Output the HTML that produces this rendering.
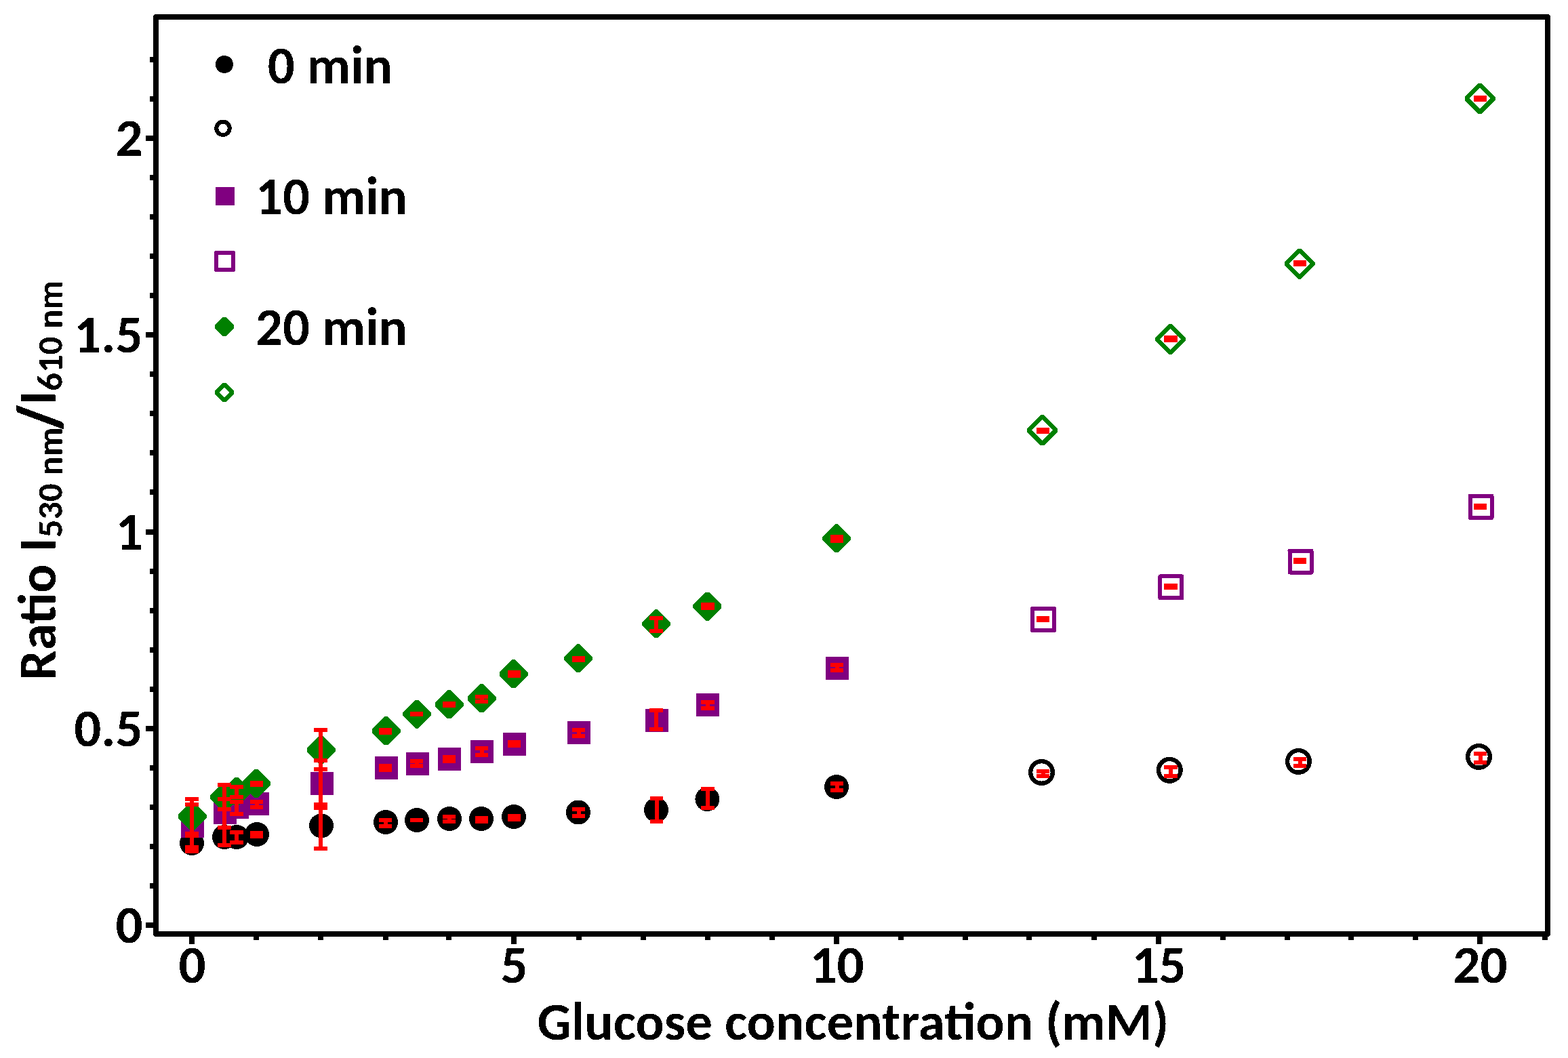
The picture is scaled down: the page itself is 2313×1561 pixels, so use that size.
<!DOCTYPE html><html><head><meta charset="utf-8"><title>Glucose ratio chart</title><style>html,body{margin:0;padding:0;background:#fff;overflow:hidden}svg{display:block}text{font-size-adjust:0.48486;font-family:Carlito, 'Liberation Sans', sans-serif;font-weight:bold;fill:#000}</style></head><body>
<svg width="2313" height="1561" viewBox="0 0 2313 1561" shape-rendering="crispEdges">
<rect x="0" y="0" width="2313" height="1561" fill="#fff"/>
<defs><filter id="bin" x="0" y="0" width="2313" height="1561" filterUnits="userSpaceOnUse" color-interpolation-filters="sRGB"><feComponentTransfer><feFuncA type="discrete" tableValues="0 1"/></feComponentTransfer></filter></defs>
<g filter="url(#bin)">
<rect x="230" y="25" width="2053" height="1353" fill="none" stroke="#000" stroke-width="8" stroke-linejoin="round"/>
<g fill="#000"><rect x="215" y="1361" width="11" height="8"/><rect x="221" y="1302.95" width="5" height="8"/><rect x="221" y="1244.9" width="5" height="8"/><rect x="221" y="1186.85" width="5" height="8"/><rect x="221" y="1128.8" width="5" height="8"/><rect x="215" y="1070.75" width="11" height="8"/><rect x="221" y="1012.7" width="5" height="8"/><rect x="221" y="954.65" width="5" height="8"/><rect x="221" y="896.6" width="5" height="8"/><rect x="221" y="838.55" width="5" height="8"/><rect x="215" y="780.5" width="11" height="8"/><rect x="221" y="722.45" width="5" height="8"/><rect x="221" y="664.4" width="5" height="8"/><rect x="221" y="606.35" width="5" height="8"/><rect x="221" y="548.3" width="5" height="8"/><rect x="215" y="490.25" width="11" height="8"/><rect x="221" y="432.2" width="5" height="8"/><rect x="221" y="374.15" width="5" height="8"/><rect x="221" y="316.1" width="5" height="8"/><rect x="221" y="258.05" width="5" height="8"/><rect x="215" y="200" width="11" height="8"/><rect x="221" y="141.95" width="5" height="8"/><rect x="221" y="83.9" width="5" height="8"/><rect x="279" y="1382" width="8" height="11"/><rect x="374" y="1382" width="8" height="5"/><rect x="469" y="1382" width="8" height="5"/><rect x="565" y="1382" width="8" height="5"/><rect x="658" y="1382" width="8" height="5"/><rect x="754" y="1382" width="8" height="11"/><rect x="850" y="1382" width="8" height="5"/><rect x="945" y="1382" width="8" height="5"/><rect x="1040" y="1382" width="8" height="5"/><rect x="1135" y="1382" width="8" height="5"/><rect x="1230" y="1382" width="8" height="11"/><rect x="1324.5" y="1382" width="8" height="5"/><rect x="1419.5" y="1382" width="8" height="5"/><rect x="1514" y="1382" width="8" height="5"/><rect x="1610" y="1382" width="8" height="5"/><rect x="1705" y="1382" width="8" height="11"/><rect x="1800" y="1382" width="8" height="5"/><rect x="1895" y="1382" width="8" height="5"/><rect x="1989" y="1382" width="8" height="5"/><rect x="2084" y="1382" width="8" height="5"/><rect x="2179" y="1382" width="8" height="11"/><rect x="2275" y="1382" width="8" height="5"/></g>
<g font-size="79"><text x="210.5" y="1391" text-anchor="end" textLength="40.05" lengthAdjust="spacingAndGlyphs">0</text><text x="210.5" y="1100.75" text-anchor="end" textLength="101.19" lengthAdjust="spacingAndGlyphs">0.5</text><text x="210.5" y="810.5" text-anchor="end" textLength="40.05" lengthAdjust="spacingAndGlyphs">1</text><text x="210.5" y="520.25" text-anchor="end" textLength="101.19" lengthAdjust="spacingAndGlyphs">1.5</text><text x="210.5" y="230" text-anchor="end" textLength="40.05" lengthAdjust="spacingAndGlyphs">2</text><text x="283.5" y="1450" text-anchor="middle" textLength="40.05" lengthAdjust="spacingAndGlyphs">0</text><text x="758.5" y="1450" text-anchor="middle" textLength="40.05" lengthAdjust="spacingAndGlyphs">5</text><text x="1234.5" y="1450" text-anchor="middle" textLength="80.09" lengthAdjust="spacingAndGlyphs">10</text><text x="1709.5" y="1450" text-anchor="middle" textLength="80.09" lengthAdjust="spacingAndGlyphs">15</text><text x="2183.5" y="1450" text-anchor="middle" textLength="80.09" lengthAdjust="spacingAndGlyphs">20</text></g>
<text x="792.5" y="1534" font-size="79" textLength="931.95" lengthAdjust="spacingAndGlyphs">Glucose concentration (mM)</text>
<g transform="translate(81.6 1003.7) rotate(-90)"><text x="0" y="0" font-size="79" textLength="210.39" lengthAdjust="spacingAndGlyphs">Ratio I</text><text x="210.39" y="10.4" font-size="52.67" textLength="163.06" lengthAdjust="spacingAndGlyphs" xml:space="preserve">530 nm</text><text x="405.98" y="0" font-size="79" textLength="21.06" lengthAdjust="spacingAndGlyphs">I</text><text x="427.04" y="10.4" font-size="52.67" textLength="163.06" lengthAdjust="spacingAndGlyphs" xml:space="preserve">610 nm</text><text transform="translate(373.2 6.6) scale(0.88 1.13)" x="0" y="0" font-size="79" stroke="#000" stroke-width="3.5" textLength="33.95" lengthAdjust="spacingAndGlyphs">/</text></g>
<g>
<circle cx="331" cy="95" r="13" fill="#000000"/>
<circle cx="329" cy="189.3" r="9.7" fill="none" stroke="#000000" stroke-width="6"/>
<rect x="318" y="275.8" width="28" height="27" fill="#800080"/>
<rect x="319.1" y="372.9" width="25" height="25" fill="none" stroke="#800080" stroke-width="6" stroke-linejoin="round"/>
<path d="M328.7 467.8 L333.3 467.8 L345.1 479.6 L345.1 484.2 L333.3 496 L328.7 496 L316.9 484.2 L316.9 479.6 Z" fill="#008000"/>
<path d="M328.7 564.8 L333.3 564.8 L345.1 576.6 L345.1 581.2 L333.3 593 L328.7 593 L316.9 581.2 L316.9 576.6 Z M331 571.7 L338.2 578.9 L331 586.1 L323.8 578.9 Z" fill="#008000" fill-rule="evenodd"/>
</g>
<g font-size="79"><text x="377" y="123" xml:space="preserve" textLength="201.83" lengthAdjust="spacingAndGlyphs"> 0 min</text><text x="377" y="316.2" xml:space="preserve" textLength="224.02" lengthAdjust="spacingAndGlyphs">10 min</text><text x="377" y="509.4" xml:space="preserve" textLength="224.02" lengthAdjust="spacingAndGlyphs">20 min</text></g>
<g><circle cx="283" cy="1244" r="18" fill="#000000"/><circle cx="331" cy="1235" r="18" fill="#000000"/><circle cx="349" cy="1235" r="18" fill="#000000"/><circle cx="379" cy="1231" r="18" fill="#000000"/><circle cx="474" cy="1218.3" r="18" fill="#000000"/><circle cx="569" cy="1213" r="18" fill="#000000"/><circle cx="615" cy="1210" r="18" fill="#000000"/><circle cx="663" cy="1208" r="18" fill="#000000"/><circle cx="710" cy="1208" r="18" fill="#000000"/><circle cx="758" cy="1205" r="18" fill="#000000"/><circle cx="853" cy="1198.5" r="18" fill="#000000"/><circle cx="968" cy="1195" r="18" fill="#000000"/><circle cx="1043.4" cy="1179" r="18" fill="#000000"/><circle cx="1234" cy="1161" r="18" fill="#000000"/><circle cx="1536.5" cy="1139.5" r="16.3" fill="none" stroke="#000000" stroke-width="6.4"/><circle cx="1725.3" cy="1136.3" r="16.3" fill="none" stroke="#000000" stroke-width="6.4"/><circle cx="1915.4" cy="1123.4" r="16.3" fill="none" stroke="#000000" stroke-width="6.4"/><circle cx="2181.5" cy="1116.4" r="16.3" fill="none" stroke="#000000" stroke-width="6.4"/><rect x="267" y="1201.7" width="34" height="34" fill="#800080"/><rect x="315" y="1181.7" width="34" height="34" fill="#800080"/><rect x="332.9" y="1173.6" width="34" height="34" fill="#800080"/><rect x="363" y="1169" width="34" height="34" fill="#800080"/><rect x="458" y="1139.4" width="34" height="34" fill="#800080"/><rect x="553" y="1116.4" width="34" height="34" fill="#800080"/><rect x="599" y="1110" width="34" height="34" fill="#800080"/><rect x="646.4" y="1103" width="34" height="34" fill="#800080"/><rect x="694" y="1092" width="34" height="34" fill="#800080"/><rect x="742" y="1080.5" width="34" height="34" fill="#800080"/><rect x="837" y="1064" width="34" height="34" fill="#800080"/><rect x="952" y="1046" width="34" height="34" fill="#800080"/><rect x="1027" y="1023" width="34" height="34" fill="#800080"/><rect x="1218" y="969" width="34" height="34" fill="#800080"/><rect x="1523" y="898" width="32" height="32" fill="none" stroke="#800080" stroke-width="6" stroke-linejoin="round"/><rect x="1711.4" y="850.4" width="32" height="32" fill="none" stroke="#800080" stroke-width="6" stroke-linejoin="round"/><rect x="1902.5" y="812.5" width="32" height="32" fill="none" stroke="#800080" stroke-width="6" stroke-linejoin="round"/><rect x="2168.5" y="731.9" width="32" height="32" fill="none" stroke="#800080" stroke-width="6" stroke-linejoin="round"/><path d="M281.25 1183.5 L285.75 1183.5 L304.5 1202.25 L304.5 1206.75 L285.75 1225.5 L281.25 1225.5 L262.5 1206.75 L262.5 1202.25 Z" fill="#008000"/><path d="M328.75 1155 L333.25 1155 L352 1173.75 L352 1178.25 L333.25 1197 L328.75 1197 L310 1178.25 L310 1173.75 Z" fill="#008000"/><path d="M346.75 1147 L351.25 1147 L370 1165.75 L370 1170.25 L351.25 1189 L346.75 1189 L328 1170.25 L328 1165.75 Z" fill="#008000"/><path d="M375.75 1135 L380.25 1135 L399 1153.75 L399 1158.25 L380.25 1177 L375.75 1177 L357 1158.25 L357 1153.75 Z" fill="#008000"/><path d="M471.25 1085.5 L475.75 1085.5 L494.5 1104.25 L494.5 1108.75 L475.75 1127.5 L471.25 1127.5 L452.5 1108.75 L452.5 1104.25 Z" fill="#008000"/><path d="M567.25 1057.3 L571.75 1057.3 L590.5 1076.05 L590.5 1080.55 L571.75 1099.3 L567.25 1099.3 L548.5 1080.55 L548.5 1076.05 Z" fill="#008000"/><path d="M612.75 1032.5 L617.25 1032.5 L636 1051.25 L636 1055.75 L617.25 1074.5 L612.75 1074.5 L594 1055.75 L594 1051.25 Z" fill="#008000"/><path d="M660.25 1018.4 L664.75 1018.4 L683.5 1037.15 L683.5 1041.65 L664.75 1060.4 L660.25 1060.4 L641.5 1041.65 L641.5 1037.15 Z" fill="#008000"/><path d="M708.25 1009.3 L712.75 1009.3 L731.5 1028.05 L731.5 1032.55 L712.75 1051.3 L708.25 1051.3 L689.5 1032.55 L689.5 1028.05 Z" fill="#008000"/><path d="M755.25 973.3 L759.75 973.3 L778.5 992.05 L778.5 996.55 L759.75 1015.3 L755.25 1015.3 L736.5 996.55 L736.5 992.05 Z" fill="#008000"/><path d="M850.75 950.3 L855.25 950.3 L874 969.05 L874 973.55 L855.25 992.3 L850.75 992.3 L832 973.55 L832 969.05 Z" fill="#008000"/><path d="M965.75 899.3 L970.25 899.3 L989 918.05 L989 922.55 L970.25 941.3 L965.75 941.3 L947 922.55 L947 918.05 Z" fill="#008000"/><path d="M1041.15 873.5 L1045.65 873.5 L1064.4 892.25 L1064.4 896.75 L1045.65 915.5 L1041.15 915.5 L1022.4 896.75 L1022.4 892.25 Z" fill="#008000"/><path d="M1231.75 773.4 L1236.25 773.4 L1255 792.15 L1255 796.65 L1236.25 815.4 L1231.75 815.4 L1213 796.65 L1213 792.15 Z" fill="#008000"/><path d="M1535.3 612.4 L1539.7 612.4 L1560 632.7 L1560 637.1 L1539.7 657.4 L1535.3 657.4 L1515 637.1 L1515 632.7 Z M1537.5 619.4 L1553 634.9 L1537.5 650.4 L1522 634.9 Z" fill="#008000" fill-rule="evenodd"/><path d="M1724.3 478 L1728.7 478 L1749 498.3 L1749 502.7 L1728.7 523 L1724.3 523 L1704 502.7 L1704 498.3 Z M1726.5 485 L1742 500.5 L1726.5 516 L1711 500.5 Z" fill="#008000" fill-rule="evenodd"/><path d="M1914.8 366.5 L1919.2 366.5 L1939.5 386.8 L1939.5 391.2 L1919.2 411.5 L1914.8 411.5 L1894.5 391.2 L1894.5 386.8 Z M1917 373.5 L1932.5 389 L1917 404.5 L1901.5 389 Z" fill="#008000" fill-rule="evenodd"/><path d="M2180.8 122.9 L2185.2 122.9 L2205.5 143.2 L2205.5 147.6 L2185.2 167.9 L2180.8 167.9 L2160.5 147.6 L2160.5 143.2 Z M2183 129.9 L2198.5 145.4 L2183 160.9 L2167.5 145.4 Z" fill="#008000" fill-rule="evenodd"/></g>
<g fill="#ff0000"><rect x="280" y="1232.5" width="6" height="23.6"/><rect x="273.25" y="1229.5" width="19.5" height="6"/><rect x="273.25" y="1253.1" width="19.5" height="6"/><rect x="328" y="1220.7" width="6" height="26.6"/><rect x="321.25" y="1217.7" width="19.5" height="6"/><rect x="321.25" y="1244.3" width="19.5" height="6"/><rect x="346" y="1228" width="6" height="14.8"/><rect x="339.25" y="1225" width="19.5" height="6"/><rect x="339.25" y="1239.8" width="19.5" height="6"/><rect x="375.5" y="1228.5" width="6" height="5"/><rect x="368.75" y="1225.5" width="19.5" height="6"/><rect x="368.75" y="1230.5" width="19.5" height="6"/><rect x="470" y="1187" width="6" height="65"/><rect x="463.25" y="1184" width="19.5" height="6"/><rect x="463.25" y="1249" width="19.5" height="6"/><rect x="565.5" y="1210" width="6" height="9"/><rect x="558.75" y="1207" width="19.5" height="6"/><rect x="558.75" y="1216" width="19.5" height="6"/><rect x="604.75" y="1207" width="19.5" height="6"/><rect x="604.75" y="1207" width="19.5" height="6"/><rect x="659.5" y="1205" width="6" height="7"/><rect x="652.75" y="1202" width="19.5" height="6"/><rect x="652.75" y="1209" width="19.5" height="6"/><rect x="707.5" y="1206.8" width="6" height="5"/><rect x="700.75" y="1203.8" width="19.5" height="6"/><rect x="700.75" y="1208.8" width="19.5" height="6"/><rect x="755.5" y="1204" width="6" height="5"/><rect x="748.75" y="1201" width="19.5" height="6"/><rect x="748.75" y="1206" width="19.5" height="6"/><rect x="850.5" y="1194" width="6" height="10"/><rect x="843.75" y="1191" width="19.5" height="6"/><rect x="843.75" y="1201" width="19.5" height="6"/><rect x="965.6" y="1178" width="6" height="34"/><rect x="958.85" y="1175" width="19.5" height="6"/><rect x="958.85" y="1209" width="19.5" height="6"/><rect x="1040.9" y="1164" width="6" height="28"/><rect x="1034.15" y="1161" width="19.5" height="6"/><rect x="1034.15" y="1189" width="19.5" height="6"/><rect x="1231.5" y="1156" width="6" height="10"/><rect x="1224.75" y="1153" width="19.5" height="6"/><rect x="1224.75" y="1163" width="19.5" height="6"/><rect x="1535.5" y="1138" width="6" height="7"/><rect x="1528.75" y="1135" width="19.5" height="6"/><rect x="1528.75" y="1142" width="19.5" height="6"/><rect x="1724" y="1132" width="6" height="13"/><rect x="1717.25" y="1129" width="19.5" height="6"/><rect x="1717.25" y="1142" width="19.5" height="6"/><rect x="1914.5" y="1120" width="6" height="10"/><rect x="1907.75" y="1117" width="19.5" height="6"/><rect x="1907.75" y="1127" width="19.5" height="6"/><rect x="2180.5" y="1112" width="6" height="13"/><rect x="2173.75" y="1109" width="19.5" height="6"/><rect x="2173.75" y="1122" width="19.5" height="6"/><rect x="280" y="1187" width="6" height="63"/><rect x="273.25" y="1184" width="19.5" height="6"/><rect x="273.25" y="1247" width="19.5" height="6"/><rect x="328" y="1179.1" width="6" height="41.4"/><rect x="321.25" y="1176.1" width="19.5" height="6"/><rect x="321.25" y="1217.5" width="19.5" height="6"/><rect x="346" y="1183" width="6" height="18"/><rect x="339.25" y="1180" width="19.5" height="6"/><rect x="339.25" y="1198" width="19.5" height="6"/><rect x="375.5" y="1182.9" width="6" height="8"/><rect x="368.75" y="1179.9" width="19.5" height="6"/><rect x="368.75" y="1187.9" width="19.5" height="6"/><rect x="470" y="1122" width="6" height="70"/><rect x="463.25" y="1119" width="19.5" height="6"/><rect x="463.25" y="1189" width="19.5" height="6"/><rect x="565.5" y="1130" width="6" height="6"/><rect x="558.75" y="1127" width="19.5" height="6"/><rect x="558.75" y="1133" width="19.5" height="6"/><rect x="611.5" y="1123.1" width="6" height="7"/><rect x="604.75" y="1120.1" width="19.5" height="6"/><rect x="604.75" y="1127.1" width="19.5" height="6"/><rect x="659.5" y="1117" width="6" height="6"/><rect x="652.75" y="1114" width="19.5" height="6"/><rect x="652.75" y="1120" width="19.5" height="6"/><rect x="707.5" y="1104" width="6" height="10"/><rect x="700.75" y="1101" width="19.5" height="6"/><rect x="700.75" y="1111" width="19.5" height="6"/><rect x="755.5" y="1094.9" width="6" height="5"/><rect x="748.75" y="1091.9" width="19.5" height="6"/><rect x="748.75" y="1096.9" width="19.5" height="6"/><rect x="850.5" y="1077" width="6" height="9"/><rect x="843.75" y="1074" width="19.5" height="6"/><rect x="843.75" y="1083" width="19.5" height="6"/><rect x="965" y="1048" width="6" height="28"/><rect x="958.25" y="1045" width="19.5" height="6"/><rect x="958.25" y="1073" width="19.5" height="6"/><rect x="1041" y="1036" width="6" height="9"/><rect x="1034.25" y="1033" width="19.5" height="6"/><rect x="1034.25" y="1042" width="19.5" height="6"/><rect x="1231.5" y="981" width="6" height="8"/><rect x="1224.75" y="978" width="19.5" height="6"/><rect x="1224.75" y="986" width="19.5" height="6"/><rect x="1535.5" y="912" width="6" height="3"/><rect x="1528.75" y="909" width="19.5" height="6"/><rect x="1528.75" y="912" width="19.5" height="6"/><rect x="1724" y="863.9" width="6" height="3"/><rect x="1717.25" y="860.9" width="19.5" height="6"/><rect x="1717.25" y="863.9" width="19.5" height="6"/><rect x="1914.5" y="825.9" width="6" height="3"/><rect x="1907.75" y="822.9" width="19.5" height="6"/><rect x="1907.75" y="825.9" width="19.5" height="6"/><rect x="2180.5" y="745.9" width="6" height="3"/><rect x="2173.75" y="742.9" width="19.5" height="6"/><rect x="2173.75" y="745.9" width="19.5" height="6"/><rect x="280" y="1179" width="6" height="51"/><rect x="273.25" y="1176" width="19.5" height="6"/><rect x="273.25" y="1227" width="19.5" height="6"/><rect x="328" y="1158" width="6" height="36"/><rect x="321.25" y="1155" width="19.5" height="6"/><rect x="321.25" y="1191" width="19.5" height="6"/><rect x="346" y="1161" width="6" height="15"/><rect x="339.25" y="1158" width="19.5" height="6"/><rect x="339.25" y="1173" width="19.5" height="6"/><rect x="375.5" y="1154.8" width="6" height="3"/><rect x="368.75" y="1151.8" width="19.5" height="6"/><rect x="368.75" y="1154.8" width="19.5" height="6"/><rect x="470" y="1077" width="6" height="58"/><rect x="463.25" y="1074" width="19.5" height="6"/><rect x="463.25" y="1132" width="19.5" height="6"/><rect x="565.5" y="1077" width="6" height="4"/><rect x="558.75" y="1074" width="19.5" height="6"/><rect x="558.75" y="1078" width="19.5" height="6"/><rect x="611.5" y="1053" width="6" height="1"/><rect x="604.75" y="1050" width="19.5" height="6"/><rect x="604.75" y="1051" width="19.5" height="6"/><rect x="659.5" y="1038" width="6" height="3"/><rect x="652.75" y="1035" width="19.5" height="6"/><rect x="652.75" y="1038" width="19.5" height="6"/><rect x="707.5" y="1028.1" width="6" height="7"/><rect x="700.75" y="1025.1" width="19.5" height="6"/><rect x="700.75" y="1032.1" width="19.5" height="6"/><rect x="755.5" y="991.8" width="6" height="5"/><rect x="748.75" y="988.8" width="19.5" height="6"/><rect x="748.75" y="993.8" width="19.5" height="6"/><rect x="850.5" y="970.9" width="6" height="3"/><rect x="843.75" y="967.9" width="19.5" height="6"/><rect x="843.75" y="970.9" width="19.5" height="6"/><rect x="965" y="912" width="6" height="19"/><rect x="958.25" y="909" width="19.5" height="6"/><rect x="958.25" y="928" width="19.5" height="6"/><rect x="1041" y="892" width="6" height="5"/><rect x="1034.25" y="889" width="19.5" height="6"/><rect x="1034.25" y="894" width="19.5" height="6"/><rect x="1231.5" y="792" width="6" height="6"/><rect x="1224.75" y="789" width="19.5" height="6"/><rect x="1224.75" y="795" width="19.5" height="6"/><rect x="1535.5" y="633.9" width="6" height="3"/><rect x="1528.75" y="630.9" width="19.5" height="6"/><rect x="1528.75" y="633.9" width="19.5" height="6"/><rect x="1724" y="497.8" width="6" height="4"/><rect x="1717.25" y="494.8" width="19.5" height="6"/><rect x="1717.25" y="498.8" width="19.5" height="6"/><rect x="1914.5" y="386.9" width="6" height="3"/><rect x="1907.75" y="383.9" width="19.5" height="6"/><rect x="1907.75" y="386.9" width="19.5" height="6"/><rect x="2180.5" y="143.9" width="6" height="3"/><rect x="2173.75" y="140.9" width="19.5" height="6"/><rect x="2173.75" y="143.9" width="19.5" height="6"/></g>
</g>
</svg></body></html>
